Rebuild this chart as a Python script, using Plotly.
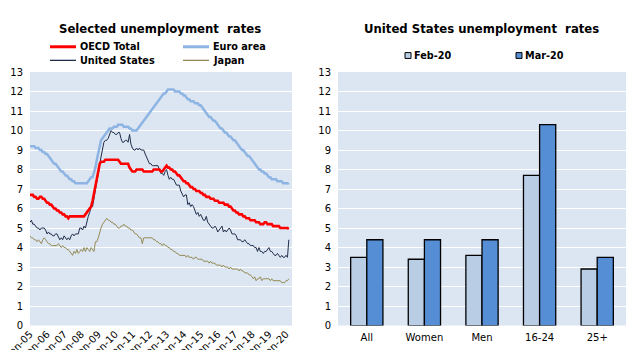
import plotly.graph_objects as go
import pandas as pd

# ---------------- data ----------------
months = pd.date_range("2005-01-01", "2020-03-01", freq="MS")

oecd_total = [
    6.7, 6.7, 6.7, 6.6, 6.6, 6.5, 6.5, 6.6, 6.6, 6.5, 6.5, 6.4,
    6.3, 6.3, 6.2, 6.2, 6.1, 6.0, 6.0, 5.9, 5.9, 5.8, 5.8, 5.7,
    5.7, 5.6, 5.6, 5.5, 5.6, 5.6, 5.6, 5.6, 5.6, 5.6, 5.6, 5.6,
    5.6, 5.6, 5.6, 5.7, 5.8, 5.9, 6.0, 6.1, 6.4, 6.8, 7.2, 7.6,
    8.0, 8.3, 8.4, 8.4, 8.4, 8.5, 8.5, 8.5, 8.5, 8.5, 8.5, 8.5,
    8.5, 8.5, 8.5, 8.4, 8.3, 8.3, 8.3, 8.3, 8.3, 8.3, 8.1, 8.0,
    7.9, 7.9, 7.9, 8.0, 8.0, 8.0, 8.0, 8.0, 7.9, 7.9, 7.9, 7.9,
    7.9, 7.9, 7.9, 8.0, 8.0, 8.0, 8.0, 8.0, 7.9, 7.9, 8.0, 8.1,
    8.2, 8.1, 8.1, 8.0, 8.0, 7.9, 7.9, 7.8, 7.7, 7.7, 7.6, 7.5,
    7.4, 7.4, 7.3, 7.3, 7.2, 7.1, 7.1, 7.0, 7.0, 6.9, 6.9, 6.9,
    6.8, 6.8, 6.7, 6.7, 6.6, 6.6, 6.6, 6.5, 6.5, 6.5, 6.4, 6.4,
    6.4, 6.3, 6.3, 6.3, 6.3, 6.2, 6.2, 6.2, 6.1, 6.1, 6.0, 5.9,
    5.9, 5.8, 5.8, 5.7, 5.7, 5.7, 5.6, 5.6, 5.5, 5.5, 5.5, 5.4,
    5.4, 5.4, 5.4, 5.3, 5.3, 5.3, 5.2, 5.2, 5.2, 5.3, 5.3, 5.2,
    5.2, 5.2, 5.2, 5.1, 5.1, 5.1, 5.1, 5.1, 5.0, 5.0, 5.0, 5.0,
    5.0, 5.0, 4.95,
]

euro_area = [
    9.2, 9.2, 9.2, 9.2, 9.1, 9.1, 9.1, 9.0, 9.0, 8.9, 8.9, 8.8,
    8.8, 8.7, 8.6, 8.5, 8.4, 8.3, 8.3, 8.2, 8.1, 8.0, 7.9, 7.9,
    7.8, 7.7, 7.7, 7.6, 7.5, 7.5, 7.4, 7.4, 7.3, 7.3, 7.3, 7.3,
    7.3, 7.3, 7.3, 7.3, 7.3, 7.4, 7.5, 7.6, 7.6, 7.8, 8.1, 8.5,
    8.9, 9.2, 9.5, 9.6, 9.7, 9.8, 9.9, 10.0, 10.1, 10.1, 10.1, 10.2,
    10.2, 10.2, 10.3, 10.3, 10.3, 10.3, 10.2, 10.2, 10.2, 10.2, 10.1, 10.1,
    10.0, 10.0, 10.0, 10.0, 10.1, 10.2, 10.3, 10.4, 10.5, 10.6, 10.7, 10.8,
    10.9, 11.0, 11.1, 11.2, 11.3, 11.4, 11.5, 11.6, 11.7, 11.8, 11.9, 11.9,
    12.0, 12.1, 12.1, 12.1, 12.1, 12.1, 12.0, 12.0, 12.0, 12.0, 11.9, 11.9,
    11.8, 11.8, 11.7, 11.6, 11.6, 11.5, 11.5, 11.5, 11.4, 11.4, 11.4, 11.3,
    11.3, 11.2, 11.1, 11.0, 10.9, 10.8, 10.7, 10.7, 10.6, 10.5, 10.5, 10.4,
    10.3, 10.2, 10.1, 10.1, 10.0, 9.9, 9.9, 9.8, 9.7, 9.7, 9.6, 9.5,
    9.5, 9.4, 9.3, 9.2, 9.1, 9.0, 9.0, 8.9, 8.8, 8.7, 8.7, 8.6,
    8.5, 8.4, 8.3, 8.2, 8.1, 8.0, 8.0, 7.9, 7.9, 7.8, 7.8, 7.7,
    7.6, 7.6, 7.5, 7.5, 7.5, 7.5, 7.4, 7.4, 7.4, 7.4, 7.3, 7.3,
    7.3, 7.3, 7.25,
]

united_states = [
    5.3, 5.4, 5.2, 5.2, 5.1, 5.0, 5.0, 4.9, 5.0, 5.0, 5.0, 4.9,
    4.7, 4.8, 4.7, 4.7, 4.6, 4.6, 4.7, 4.7, 4.5, 4.4, 4.5, 4.4,
    4.6, 4.5, 4.4, 4.5, 4.4, 4.6, 4.7, 4.6, 4.7, 4.7, 4.7, 5.0,
    5.0, 4.9, 5.1, 5.0, 5.4, 5.6, 5.8, 6.1, 6.1, 6.5, 6.8, 7.3,
    7.8, 8.3, 8.7, 9.0, 9.4, 9.5, 9.5, 9.6, 9.8, 10.0, 9.9, 9.9,
    9.8, 9.8, 9.9, 9.9, 9.6, 9.4, 9.4, 9.5, 9.5, 9.4, 9.8, 9.3,
    9.1, 9.0, 9.0, 9.1, 9.0, 9.1, 9.0, 9.0, 9.0, 8.8, 8.6, 8.5,
    8.3, 8.3, 8.2, 8.2, 8.2, 8.2, 8.2, 8.0, 7.8, 7.8, 7.7, 7.9,
    8.0, 7.7, 7.5, 7.6, 7.5, 7.5, 7.3, 7.2, 7.2, 7.2, 6.9, 6.7,
    6.6, 6.7, 6.7, 6.2, 6.3, 6.1, 6.2, 6.1, 5.9, 5.7, 5.8, 5.6,
    5.7, 5.5, 5.4, 5.4, 5.6, 5.3, 5.2, 5.1, 5.0, 5.0, 5.1, 5.0,
    4.8, 4.9, 5.0, 5.1, 4.8, 4.9, 4.8, 4.9, 5.0, 4.9, 4.7, 4.7,
    4.7, 4.6, 4.4, 4.4, 4.4, 4.3, 4.3, 4.4, 4.3, 4.2, 4.2, 4.1,
    4.1, 4.1, 4.0, 4.0, 3.8, 4.0, 3.8, 3.8, 3.7, 3.8, 3.8, 3.9,
    4.0, 3.8, 3.8, 3.7, 3.6, 3.6, 3.7, 3.6, 3.5, 3.6, 3.5, 3.5,
    3.6, 3.5, 4.4,
]

japan = [
    4.6, 4.5, 4.5, 4.4, 4.4, 4.3, 4.4, 4.3, 4.2, 4.4, 4.5, 4.4,
    4.3, 4.2, 4.2, 4.1, 4.1, 4.1, 4.1, 4.1, 4.2, 4.1, 4.0, 4.1,
    4.0, 4.0, 3.9, 3.9, 3.8, 3.7, 3.6, 3.8, 3.7, 3.9, 3.7, 3.8,
    3.9, 3.8, 4.0, 3.8, 4.0, 3.9, 3.8, 4.0, 3.9, 3.8, 4.3, 4.3,
    4.5, 4.8, 5.0, 5.2, 5.3, 5.4, 5.5, 5.4, 5.4, 5.3, 5.3, 5.2,
    5.2, 5.1, 5.0, 5.0, 5.1, 5.1, 5.2, 5.1, 5.1, 5.0, 5.0, 4.9,
    4.9, 4.8, 4.7, 4.7, 4.6, 4.5, 4.5, 4.2, 4.5, 4.5, 4.5, 4.5,
    4.5, 4.5, 4.5, 4.4, 4.4, 4.3, 4.3, 4.2, 4.2, 4.1, 4.2, 4.1,
    4.1, 4.0, 4.0, 3.9, 3.9, 3.8, 3.8, 3.7, 3.7, 3.6, 3.6, 3.6,
    3.6, 3.6, 3.5, 3.6, 3.5, 3.5, 3.5, 3.4, 3.5, 3.5, 3.4, 3.4,
    3.4, 3.4, 3.3, 3.3, 3.3, 3.3, 3.2, 3.3, 3.2, 3.2, 3.2, 3.1,
    3.1, 3.1, 3.1, 3.0, 3.1, 3.0, 3.0, 3.0, 2.9, 3.0, 2.9, 2.9,
    2.9, 2.9, 2.9, 2.8, 2.9, 2.8, 2.8, 2.7, 2.7, 2.7, 2.6, 2.6,
    2.5, 2.4, 2.5, 2.3, 2.4, 2.4, 2.5, 2.3, 2.4, 2.4, 2.4, 2.4,
    2.4, 2.3, 2.4, 2.3, 2.3, 2.3, 2.3, 2.3, 2.3, 2.2, 2.2, 2.2,
    2.3, 2.3, 2.4,
]

groups = ["All", "Women", "Men", "16-24", "25+"]
feb_20 = [3.5, 3.4, 3.6, 7.7, 2.9]
mar_20 = [4.4, 4.4, 4.4, 10.3, 3.5]

y_ticks = list(range(0, 14))

# ---------------- styling ----------------
W, H = 640, 350
FONT = "DejaVu Sans"
BG = "#dce6f2"
C_OECD, C_EURO, C_US, C_JP = "#ff0000", "#8db4e2", "#1f2d4a", "#948a54"
C_FEB, C_MAR = "#b9cde5", "#558ed5"


def px(x):
    return x / W


def py(y):
    return 1 - y / H


fig = go.Figure()

fig.add_trace(go.Scatter(x=months, y=euro_area, mode="lines", name="Euro area",
                         line=dict(color=C_EURO, width=2.5), xaxis="x", yaxis="y"))
fig.add_trace(go.Scatter(x=months, y=japan, mode="lines", name="Japan",
                         line=dict(color=C_JP, width=1), xaxis="x", yaxis="y"))
fig.add_trace(go.Scatter(x=months, y=united_states, mode="lines", name="United States",
                         line=dict(color=C_US, width=1), xaxis="x", yaxis="y"))
fig.add_trace(go.Scatter(x=months, y=oecd_total, mode="lines", name="OECD Total",
                         line=dict(color=C_OECD, width=2.6), xaxis="x", yaxis="y"))

fig.add_trace(go.Bar(x=groups, y=feb_20, name="Feb-20", marker=dict(color=C_FEB, line=dict(color="black", width=1.3)),
                     xaxis="x2", yaxis="y2"))
fig.add_trace(go.Bar(x=groups, y=mar_20, name="Mar-20", marker=dict(color=C_MAR, line=dict(color="black", width=1.3)),
                     xaxis="x2", yaxis="y2"))

ydom = [py(330), py(69)]
yax = dict(range=[0, 13], tickvals=y_ticks, showgrid=True, gridcolor="white", gridwidth=1,
           zeroline=False, showline=False, ticks="", ticklabelstandoff=6,
           tickfont=dict(family=FONT, size=10, color="black"), domain=ydom, fixedrange=True)

fig.update_layout(
    width=W, height=H, margin=dict(l=0, r=0, t=0, b=0),
    paper_bgcolor="white", plot_bgcolor=BG, showlegend=False,
    barmode="group", bargap=0.44, bargroupgap=0,
    xaxis=dict(domain=[px(30), px(292)], type="date",
               range=["2005-01-01", "2020-05-08"],
               tick0="2005-01-01", dtick="M12", tickformat="%b-%y", tickangle=-45,
               showgrid=False, zeroline=False, showline=False, ticks="",
               tickfont=dict(family=FONT, size=10, color="black"), automargin=False),
    yaxis=dict(yax, anchor="x"),
    xaxis2=dict(domain=[px(338), px(626)], anchor="y2", showgrid=False, showline=False, ticks="",
                ticklabelstandoff=4,
                tickfont=dict(family=FONT, size=10, color="black"), automargin=False),
    yaxis2=dict(yax, anchor="x2"),
)

# Titles
fig.add_annotation(x=px(160), y=py(25), xref="paper", yref="paper", showarrow=False,
                   text="<b>Selected unemployment  rates</b>",
                   font=dict(family=FONT, size=11.7, color="black"), xanchor="center", yanchor="middle")
fig.add_annotation(x=px(481), y=py(25), xref="paper", yref="paper", showarrow=False,
                   text="<b>United States unemployment  rates</b>",
                   font=dict(family=FONT, size=11.7, color="black"), xanchor="center", yanchor="middle")

# Left legend (manual)
legend_items = [
    ("OECD Total", C_OECD, 3, 50, 43),
    ("Euro area", C_EURO, 3, 183, 43),
    ("United States", C_US, 1.3, 50, 57),
    ("Japan", C_JP, 1.3, 183, 57),
]
for label, color, w, x0, yy in legend_items:
    fig.add_shape(type="line", xref="paper", yref="paper", x0=px(x0), x1=px(x0 + 26),
                  y0=py(yy), y1=py(yy), line=dict(color=color, width=w))
    fig.add_annotation(x=px(x0 + 28), y=py(yy), xref="paper", yref="paper", showarrow=False,
                       text="<b>" + label + "</b>", xanchor="left", yanchor="middle",
                       font=dict(family=FONT, size=9.7, color="black"))

# Right legend (manual)
for label, color, x0 in [("Feb-20", C_FEB, 405), ("Mar-20", C_MAR, 516)]:
    fig.add_shape(type="rect", xref="paper", yref="paper", x0=px(x0), x1=px(x0 + 6),
                  y0=py(55), y1=py(49), fillcolor=color, line=dict(color="black", width=1))
    fig.add_annotation(x=px(x0 + 7), y=py(52), xref="paper", yref="paper", showarrow=False,
                       text="<b>" + label + "</b>", xanchor="left", yanchor="middle",
                       font=dict(family=FONT, size=9.7, color="black"))

fig.write_html("out.html",
               post_script="document.body.style.margin='0';document.body.style.overflow='hidden';")
